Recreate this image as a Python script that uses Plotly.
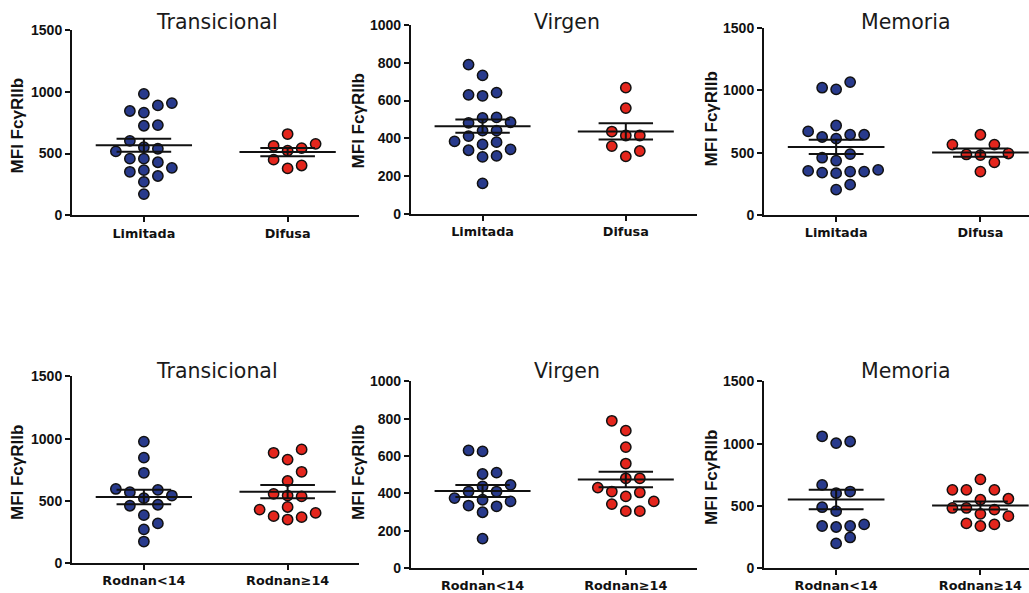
import numpy as np
import plotly.graph_objects as go

# ---------------- data ----------------
categories_top = ["Limitada", "Difusa"]
categories_bottom = ["Rodnan<14", "Rodnan≥14"]
panel_titles = ["Transicional", "Virgen", "Memoria", "Transicional", "Virgen", "Memoria"]
y_title = "MFI FcγRIIb"

trans_limitada = [982, 889, 908, 831, 844, 725, 730, 603, 552, 518, 539, 459, 459, 430,
                  385, 353, 319, 366, 271, 173]
trans_difusa = [579, 544, 658, 523, 563, 451, 380, 404]
virgen_limitada = [790, 733, 642, 625, 630, 511, 485, 482, 508, 441, 412, 380, 384, 441,
                   368, 342, 307, 302, 337, 162]
virgen_difusa = [668, 560, 415, 415, 436, 359, 333, 305]
memoria_limitada = [1065, 1007, 1020, 717, 643, 625, 612, 643, 670, 488, 459, 435, 361,
                    348, 340, 335, 348, 353, 203, 243]
memoria_difusa = [564, 643, 564, 493, 480, 485, 422, 348]

trans_rod_lt = [976, 847, 725, 569, 595, 587, 521, 542, 468, 460, 384, 318, 270, 172]
trans_rod_ge = [886, 913, 831, 733, 659, 542, 535, 556, 429, 376, 349, 368, 402, 450]
virgen_rod_lt = [625, 630, 511, 504, 437, 446, 410, 410, 357, 331, 375, 335, 366, 299, 158]
virgen_rod_ge = [789, 736, 648, 560, 481, 481, 431, 405, 410, 384, 343, 357, 305, 305]
memoria_rod_lt = [1059, 1004, 1017, 668, 615, 602, 489, 457, 351, 338, 330, 338, 246, 198]
memoria_rod_ge = [713, 629, 629, 629, 549, 557, 483, 470, 483, 436, 417, 359, 338, 351]

y_max = [1500, 1000, 1500, 1500, 1000, 1500]
y_step = [500, 200, 500, 500, 200, 500]

panels_data = [
    (trans_limitada, trans_difusa),
    (virgen_limitada, virgen_difusa),
    (memoria_limitada, memoria_difusa),
    (trans_rod_lt, trans_rod_ge),
    (virgen_rod_lt, virgen_rod_ge),
    (memoria_rod_lt, memoria_rod_ge),
]

# ---------------- layout (target pixels in the picture) ----------------
W, H = 1029, 593
# (x at category -0.5, x at category 1.5, y top of axis, y of x-axis)
boxes = [
    (72, 357, 30, 217.5),
    (408, 692, 25, 216),
    (758, 1044, 28, 217),
    (72, 357, 380, 568.3),
    (408, 692, 385, 573.5),
    (758, 1044, 385, 573.5),
]
title_pos = [(216, 22), (563, 22), (899, 22), (216, 375), (563, 375), (899, 375)]
ytitle_pos = [(18, 127), (356, 122), (706, 120), (18, 477), (356, 477), (706, 482)]

# calibration between layout pixels and photographed pixels (measured)
CAL_X = (0.63, 0.9913)
CAL_Y = (8.0, 0.962)


def cx(x):
    return (x - CAL_X[0]) / CAL_X[1]


def cy(y):
    return (y - CAL_Y[0]) / CAL_Y[1]


BLUE = "#283a8c"
RED = "#e4261d"
colors = [BLUE, RED]


def swarm_offsets(values, px_per_unit, diam_px, step):
    vals = np.asarray(values, dtype=float)
    order = np.argsort(vals)
    placed = {}
    offs = np.zeros(len(vals))
    for i in order:
        y = vals[i] * px_per_unit
        chosen = None
        for k in range(0, 10):
            cands = [0] if k == 0 else [k, -k]
            free = [c for c in cands
                    if all(abs(y - yy) >= diam_px for yy in placed.get(c, []))]
            if free:
                if len(free) == 2:
                    nl = len(placed.get(-k, []))
                    nr = len(placed.get(k, []))
                    chosen = -k if nl < nr else k
                else:
                    chosen = free[0]
                break
        placed.setdefault(chosen, []).append(y)
        offs[i] = chosen * step
    return offs


fig = go.Figure()
layout = dict(
    width=W, height=H, autosize=False,
    margin=dict(l=0, r=0, t=0, b=0),
    paper_bgcolor="white", plot_bgcolor="white",
    showlegend=False,
)
annotations = []

for p, (groups, box) in enumerate(zip(panels_data, boxes)):
    s = "" if p == 0 else str(p + 1)
    x0, x1, yt, yb = box
    X0, X1, YT, YB = cx(x0), cx(x1), cy(yt), cy(yb)
    px_per_xunit = (X1 - X0) / 2.0
    XR = min(X1, W)
    xr = -0.5 + (XR - X0) / px_per_xunit
    cats = categories_top if p < 3 else categories_bottom
    px_per_unit = (YB - YT) / y_max[p]
    step = 14.0 / px_per_xunit

    for g, vals in enumerate(groups):
        offs = swarm_offsets(vals, px_per_unit, 11.5, step)
        fig.add_trace(go.Scatter(
            x=g + offs, y=vals, mode="markers",
            marker=dict(size=10.3, color=colors[g], line=dict(color="#111111", width=1.5)),
            xaxis="x" + s, yaxis="y" + s, hoverinfo="y", cliponaxis=False,
        ))
    # mean and SEM
    for g, vals in enumerate(groups):
        arr = np.asarray(vals, dtype=float)
        m = arr.mean()
        sem = arr.std(ddof=1) / np.sqrt(len(arr))
        lx = [g - 0.335, g + 0.335, None, g - 0.19, g + 0.19, None,
              g - 0.19, g + 0.19, None, g, g]
        ly = [m, m, None, m + sem, m + sem, None, m - sem, m - sem, None, m - sem, m + sem]
        fig.add_trace(go.Scatter(
            x=lx, y=ly, mode="lines", line=dict(color="#111111", width=2),
            xaxis="x" + s, yaxis="y" + s, hoverinfo="skip", cliponaxis=False,
        ))

    layout["xaxis" + s] = dict(
        domain=[X0 / W, XR / W], range=[-0.5, xr], anchor="y" + s,
        tickvals=[0, 1], ticktext=cats, ticks="outside", ticklen=5, tickwidth=2,
        tickcolor="#111111", showline=True, linewidth=2, linecolor="#111111",
        showgrid=False, zeroline=False,
        tickfont=dict(family="DejaVu Sans", size=12.8, color="#111111", weight="bold"),
    )
    layout["yaxis" + s] = dict(
        domain=[1 - YB / H, 1 - YT / H], range=[0, y_max[p]], anchor="x" + s,
        tickvals=list(range(0, y_max[p] + 1, y_step[p])),
        ticks="outside", ticklen=5, tickwidth=2, tickcolor="#111111",
        showline=True, linewidth=2, linecolor="#111111",
        showgrid=False, zeroline=False,
        tickfont=dict(family="Liberation Sans", size=14, color="#111111", weight="bold"),
    )
    tx, ty = title_pos[p]
    annotations.append(dict(
        text=panel_titles[p], x=cx(tx) / W, y=1 - cy(ty) / H, xref="paper", yref="paper",
        showarrow=False, xanchor="center", yanchor="middle",
        font=dict(family="DejaVu Sans", size=20.5, color="#1a1a1a"),
    ))
    ax, ay = ytitle_pos[p]
    annotations.append(dict(
        text=y_title, x=cx(ax) / W, y=1 - cy(ay) / H, xref="paper", yref="paper",
        showarrow=False, xanchor="center", yanchor="middle", textangle=-90,
        font=dict(family="Liberation Sans", size=17, color="#111111", weight="bold"),
    ))

layout["annotations"] = annotations
fig.update_layout(**layout)
css_fix = (
    "var de=document.documentElement, b=document.body;"
    "de.style.margin='0';de.style.padding='0';de.style.overflow='hidden';"
    "b.style.margin='0';b.style.padding='0';b.style.overflow='hidden';"
)
fig.write_html(
    "out.html",
    config={"displayModeBar": False, "staticPlot": True},
    post_script=css_fix,
)
